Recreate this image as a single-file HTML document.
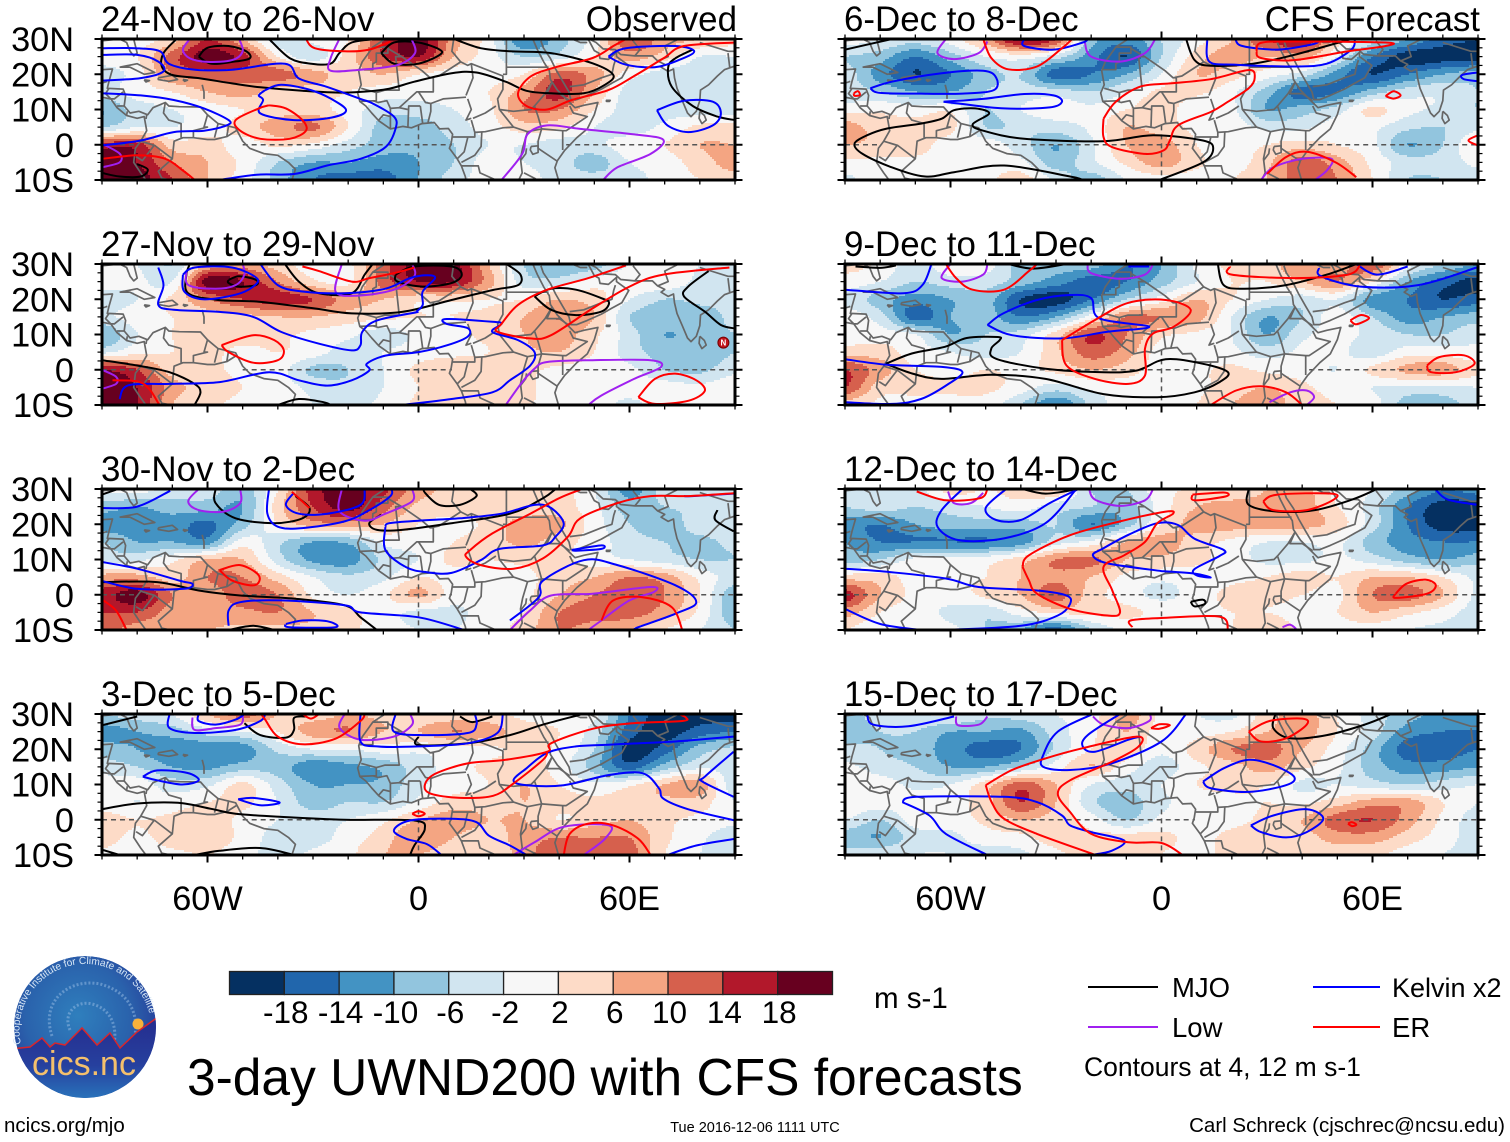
<!DOCTYPE html>
<html lang="en">
<head>
<meta charset="utf-8">
<title>3-day UWND200 with CFS forecasts</title>
<style>
html,body{margin:0;padding:0;background:#fff;}
svg{display:block;font-family:"Liberation Sans",Arial,sans-serif;}
</style>
</head>
<body>
<svg id="chart" xmlns="http://www.w3.org/2000/svg" width="1510" height="1142" viewBox="0 0 1510 1142">
<rect width="1510" height="1142" fill="#fff"/>
<defs>
<clipPath id="logo-clip"><circle cx="85" cy="1027" r="71"/></clipPath>
<radialGradient id="logo-sky" cx="0.45" cy="0.42" r="0.62"><stop offset="0" stop-color="#2f7fbd"/><stop offset="0.6" stop-color="#2a62ac"/><stop offset="1" stop-color="#273a98"/></radialGradient>
<linearGradient id="logo-ground" x1="0" y1="0" x2="0" y2="1"><stop offset="0" stop-color="#252c8e"/><stop offset="0.55" stop-color="#26409e"/><stop offset="1" stop-color="#2a7cc0"/></linearGradient>
<path id="logo-arc" d="M21 1044 A65 65 0 1 1 150 1016"/>
</defs>
<g id="panels"></g>
<g id="colorbar"></g>
<text x="874" y="1008" font-size="29.5">m s-1</text>
<text x="187" y="1095" font-size="51.5">3-day UWND200 with CFS forecasts</text>
<g>
<line x1="1088" y1="987" x2="1158" y2="987" stroke="#000" stroke-width="2"/>
<text x="1172" y="997" font-size="27.5">MJO</text>
<line x1="1088" y1="1027" x2="1158" y2="1027" stroke="#a020f0" stroke-width="2"/>
<text x="1172" y="1037" font-size="27.5">Low</text>
<line x1="1313" y1="987" x2="1380" y2="987" stroke="#0000ff" stroke-width="2"/>
<text x="1392" y="997" font-size="27">Kelvin x2</text>
<line x1="1313" y1="1027" x2="1380" y2="1027" stroke="#ff0000" stroke-width="2"/>
<text x="1392" y="1037" font-size="27.5">ER</text>
<text x="1084" y="1076" font-size="26.5">Contours at 4, 12 m s-1</text>
</g>
<text x="4" y="1132" font-size="20.5">ncics.org/mjo</text>
<text x="755" y="1132" font-size="14.5" text-anchor="middle">Tue 2016-12-06 1111 UTC</text>
<text x="1505" y="1132" font-size="20.5" text-anchor="end">Carl Schreck (cjschrec@ncsu.edu)</text>
<g clip-path="url(#logo-clip)">
<circle cx="85" cy="1027" r="71" fill="url(#logo-sky)"/>
<path d="M70 1030 C62 1012 78 1000 92 1004 C116 1010 118 1036 112 1050 M52 1036 C40 1000 70 978 100 984 C130 992 140 1015 134 1040" fill="none" stroke="#8fb6e0" stroke-width="3" stroke-dasharray="2 2" opacity="0.55"/>
<circle cx="138" cy="1024" r="5.5" fill="#f7b23b"/>
<path d="M10 1049 L30 1047 L42 1038 L50 1047 L55 1043 L65 1045 L82 1028 L97 1045 L110 1033 L120 1048 L137 1032 L158 1017 L160 1105 L10 1105 Z" fill="url(#logo-ground)" stroke="#d8262c" stroke-width="1.5"/>
<text x="84" y="1075" font-size="34" text-anchor="middle" fill="#f4c06c">cics.nc</text>
</g>
<text font-size="10.2" fill="#d6e6f5"><textPath href="#logo-arc">Cooperative Institute for Climate and Satellites</textPath></text>
</svg>
<script>
const latRows=[30,25,20,15,10,5,0,-5,-10];
const lonCols=[-90,-80,-70,-60,-50,-40,-30,-20,-10,0,10,20,30,40,50,60,70,80,90];
const bandBreaks=[-18,-14,-10,-6,-2,2,6,10,14,18];
const bandColors=["#053061","#2166ac","#4393c3","#92c5de","#d1e5f0","#f7f7f7","#fddbc7","#f4a582","#d6604d","#b2182b","#67001f"];
const panelTitles=["24-Nov to 26-Nov","27-Nov to 29-Nov","30-Nov to 2-Dec","3-Dec to 5-Dec","6-Dec to 8-Dec","9-Dec to 11-Dec","12-Dec to 14-Dec","15-Dec to 17-Dec"];
const latTickLabels=["30N","20N","10N","0","10S"];
const latTickValues=[30,20,10,0,-10];
const lonTickLabels=["60W","0","60E"];
const lonTickValues=[-60,0,60];

const fieldGrids=[
[[0,0,4,14,6,-4,-1,2,14,20,8,0,-14,-8,0,14,8,6,4],
[0,2,12,20,16,2,-4,4,14,18,6,0,-6,-4,2,8,4,-2,-2],
[-4,0,10,12,12,12,8,4,6,2,0,0,2,12,8,0,-4,-4,-4],
[-4,0,2,6,8,4,4,2,0,0,0,2,8,16,6,-4,-6,-4,-4],
[-10,-4,-2,0,2,4,4,0,-4,-4,-2,1,10,10,2,-4,-4,-4,-4],
[-6,-2,-2,0,4,8,11,2,-8,-8,-4,0,4,3,-2,-4,-1,3,4],
[16,16,4,4,0,3,1,-4,-8,-9,-6,-2,-2,-4,-3,0,2,6,6],
[20,18,10,6,1,-6,-10,-10,-12,-10,-6,0,-2,-4,-8,-2,0,4,8],
[20,20,14,6,0,-8,-14,-16,-16,-10,-4,0,0,-4,-4,-4,0,2,4]],
[[0,-2,-6,6,8,4,0,1,12,20,20,6,-6,-10,-8,-2,0,-2,-2],
[0,-1,-2,20,18,10,3,1,12,18,18,8,-4,-4,0,1,1,-3,-4],
[-4,-2,3,10,14,16,14,8,6,3,3,2,2,6,4,-2,-6,-5,-5],
[-3,0,2,4,5,6,6,4,3,2,2,3,6,10,6,-6,-8,-8,-5],
[-10,-2,2,4,4,3,1,-1,-4,-1,1,3,6,8,3,-4,-10,-8,-6],
[-3,1,2,3,1,2,0,-4,-2,0,1,2,5,6,2,-4,-8,-9,-6],
[18,14,4,3,1,0,-7,-6,-2,3,5,4,3,1,0,-1,-6,-7,-3],
[20,18,8,4,2,0,-3,-5,-2,2,4,4,3,0,-1,0,0,-1,1],
[20,18,6,3,1,0,-2,-3,-1,3,5,6,3,0,0,-3,0,0,0]],
[[-1,0,-4,-4,-8,2,16,20,15,8,5,4,4,4,-2,-12,-4,-4,-2],
[-8,-10,-8,-8,-10,4,14,20,12,5,4,4,3,4,-1,-8,-6,-5,-2],
[-12,-12,-12,-15,-8,2,8,8,6,2,1,3,8,7,0,-6,-8,-4,-3],
[-6,-10,-10,-12,0,-5,-10,-9,-1,0,2,4,7,4,0,-4,-6,-7,-5],
[-4,-3,1,6,6,-4,-11,-12,-5,-2,3,2,3,3,0,-2,-4,-6,-6],
[8,8,4,10,10,4,-2,-5,-3,2,0,0,1,4,6,10,8,1,-4],
[16,20,10,8,12,10,1,-2,1,7,0,0,1,6,10,12,10,2,-9],
[14,14,8,8,9,10,6,3,0,-3,-3,0,2,10,12,12,8,1,-9],
[12,8,6,6,5,5,5,3,0,-2,-2,0,4,10,8,6,2,-2,-6]],
[[-6,-4,-2,6,12,6,4,6,5,3,3,3,1,0,-1,-14,-20,-20,-20],
[-12,-10,-8,-4,-2,2,8,10,6,6,10,8,4,2,-4,-16,-20,-16,-14],
[-8,-10,-13,-13,-12,-5,-2,-2,0,-1,0,1,3,1,-6,-20,-16,-8,-5],
[-4,-6,-10,-11,-8,-8,-13,-11,-9,-4,0,3,4,0,-8,-16,-8,-3,-4],
[0,0,-4,-3,3,-4,-10,-10,-9,-3,0,2,6,2,-1,1,6,8,-5],
[0,-2,0,2,3,-2,-8,-6,-6,-1,4,4,6,4,3,4,5,4,-2],
[4,2,3,4,1,-2,-4,-2,1,6,8,6,6,2,4,6,3,1,-1],
[4,1,4,4,1,-4,-4,0,4,10,6,4,8,10,10,10,3,-1,-5],
[1,-1,1,2,0,-4,-1,1,6,6,3,3,8,14,12,12,2,-2,-6]],
[[0,-2,-4,0,8,20,14,-8,-12,-6,0,6,14,18,4,-4,-10,-16,-18],
[-6,-8,-14,-8,-2,0,-4,-12,-18,-6,4,8,6,8,-2,-14,-20,-20,-20],
[-4,-12,-18,-14,-8,-6,-16,-14,-10,-2,6,4,0,-4,-12,-18,-14,-10,-8],
[-4,-6,-10,-10,-6,-4,-4,-6,-2,3,3,-1,-8,-16,-14,-8,-4,-3,-6],
[0,1,0,1,-6,-2,0,-1,2,4,-1,-1,-10,-8,-4,3,-1,-3,-6],
[8,4,3,3,-6,-5,-4,-1,6,4,1,0,-3,-3,0,-1,-5,-6,-3],
[6,5,4,0,0,-4,-10,-3,6,8,2,0,2,4,2,-1,-10,-6,2],
[1,1,1,0,0,-1,-8,-3,3,8,3,0,5,12,8,1,-4,-4,-1],
[-3,0,0,0,1,4,-3,-8,-2,0,0,2,6,12,10,2,-6,-6,-4]],
[[4,1,-4,1,0,-8,-8,-8,-14,-10,-1,3,4,10,8,14,0,-6,-10],
[0,-2,-6,-4,-4,-8,-12,-16,-14,-8,-2,2,2,6,10,2,-10,-16,-20],
[-3,-8,-12,-10,-8,-18,-20,-14,-6,0,6,2,-2,-4,-2,-12,-14,-18,-16],
[0,-4,-16,-10,-8,-14,-10,0,10,10,8,-2,-10,-6,0,-6,-12,-10,-8],
[0,0,-2,-10,-6,-4,4,14,10,3,1,-2,-10,-3,-1,-3,-6,-6,-3],
[4,4,0,-2,-4,-2,5,12,8,0,0,-1,-4,-1,-1,-4,0,0,-1],
[14,8,2,0,2,1,3,6,4,0,1,3,1,0,-2,3,7,8,3],
[14,4,4,3,3,0,-4,-1,0,0,1,4,6,3,0,-2,-3,-3,-2],
[4,1,-1,0,0,-6,-14,-5,0,0,2,6,8,4,2,0,-8,-8,-4]],
[[-6,-4,-4,4,2,4,6,-6,-6,1,2,2,6,8,0,-2,-8,-14,-12],
[-6,-4,-6,-4,-2,0,-4,-6,-8,0,6,8,8,8,2,-4,-14,-20,-20],
[-12,-14,-10,-8,-8,-8,-6,-14,-8,2,8,8,8,8,4,-4,-14,-20,-20],
[-10,-14,-14,-14,-14,-12,-4,-1,6,8,4,1,-2,-2,-1,-8,-12,-14,-14],
[-8,-6,-1,-1,0,4,10,11,6,5,3,0,-3,-3,-1,-4,-8,-10,-8],
[4,4,0,0,2,6,9,6,1,-1,0,1,2,4,2,6,6,2,-3],
[16,6,1,0,3,6,12,4,0,-3,0,3,3,2,1,10,12,6,-3],
[8,2,0,-3,-5,0,3,3,3,1,1,2,2,1,2,6,3,0,-4],
[2,-1,0,-1,-6,-10,-16,-6,-1,-1,1,2,5,1,0,0,-2,-3,-4]],
[[-8,-4,-3,-1,-5,-4,-2,0,8,1,-2,-3,4,8,2,-4,-8,-12,-14],
[-8,-6,-6,-10,-10,-11,-4,1,6,0,0,2,6,8,2,-4,-12,-14,-14],
[-5,-6,-8,-12,-16,-14,-5,2,5,-1,4,10,12,6,0,-8,-16,-16,-14],
[-1,-4,-6,-10,-10,-6,0,6,0,-4,1,4,8,3,-1,-8,-12,-12,-10],
[0,0,-3,-2,4,12,6,-2,-4,-2,2,3,2,-3,-2,-4,-6,-4,-2],
[1,0,0,1,4,14,6,-5,-8,-3,0,1,2,1,4,8,8,2,-2],
[-2,-6,0,0,3,6,4,0,-6,-1,0,1,3,6,12,14,8,1,-4],
[-8,-10,-4,-3,0,1,4,3,4,3,1,3,4,4,8,8,4,0,-4],
[-4,-3,-2,-2,-4,-3,1,4,6,2,1,3,4,3,3,3,0,-2,-4]]
];

/* Each contour: [longitudes, latitudes] */
const mjoContours=[
[[[-69,-72.5,-73,-70,-62.5,-53,-45,-33,-21,-9.4,-1.2,9.4,16.5,24.8,30.7,37.7,47,53,55.4,49.5,37.7,26,17.7,10.6],[29.8,26,22.2,19.8,18.9,17.4,16.3,15.3,14.8,15.7,17.9,20.3,20.5,17.9,15.3,14.6,14.6,17,19.8,23.1,26,26.5,27.4,29.8]],
[[-62.5,-60,-54,-49,-48,-53,-59,-62.5],[25,27.5,28,26.5,24.5,23.5,23,25]],
[[-10.6,-7,0,6,6,0,-7,-10.6],[26,29,29,27,25.5,23,23,26]],
[[-42.5,-36.5,-30.5,-25,-22.5,-19,-12],[30,24.5,23,23,26,29,30]],
[[78,73,71,72,78,85,90],[27,24.5,22,16.5,11,8,7]],
[[-90,-85,-79,-77,-80],[-8,-9,-9,-7,-5.5]]],
[[[-65,-66,-65.5,-57,-45.4,-29.7,-19,-4.7,9.4,21,28.3,29,25],[30,27,21.7,19.8,19.3,17.4,16,16.4,19.8,22.6,24,27,30]],
[[-38,-34,-28.3,-19,-15.3,-13],[30,25,21.7,21.7,27,30]],
[[-54,-51,-46.2,-46.2,-51,-54,-54],[25.5,26.5,25.5,24,23.6,24.6,25.5]],
[[-6.5,-1.2,9.4,12.3,9.4,1.2,-6,-6.5],[27,29.3,29.3,27,24.6,23.6,25,27]],
[[33,37.7,44.8,52,54.2,52,44.8,37.7,33],[20.8,23,22.7,20.3,19,16.5,15.5,17,20.8]],
[[82.5,76.7,75.5,81.4,86,90],[28,23.6,20.8,16.5,12.7,11.7]],
[[-90,-80,-70.8,-63.7,-62,-63.7],[2.7,1.2,-0.7,-4,-6.4,-10]],
[[-40,-34,-27,-25],[-10,-8.3,-9.2,-10]]],
[[[-57.7,-57.7,-52,-41,-33,-31,-35],[30,26,21.7,20.3,21.7,24.6,28]],
[[1.8,1.8,5.9,11.8,16.5,14.7],[30,29,25.5,25.5,28,30]],
[[-10.6,-14,-11.8,-4.7,9.4,26,35.4,39],[22.7,20.3,18.4,18.4,20.3,23,27.4,30]],
[[-90,-74.3,-62.5,-50.7,-35.4,-21,-16.5,-11.8],[3.6,3.6,1.2,-0.2,-1.1,-3,-6.4,-10]],
[[85,84.4,89.6],[24,21.2,18]],
[[-54,-47,-41],[-10,-8.8,-10]],
[[-90,-85.5],[28.4,30]]],
[[[-90,-80],[26.8,29.3]],
[[-49.5,-45,-37.7,-35.4,-35.4,-32],[27.4,24,23.3,25.5,28.9,29.3]],
[[11.8,15.3,21],[29.3,27.7,29.3]],
[[0,0,14,26,35.4,46],[23.6,21.2,21.7,24,27,29.8]],
[[-90,-80,-68.4,-59,-52,-39,-21,-1.2,1.8,-1.2,-2.4],[3,4.6,4.8,3.1,1.7,0.8,0,-0.2,-2.6,-7.3,-10]],
[[-90,-85],[-8.5,-10]],
[[-63.6,-56.6,-45,-35.4],[-10,-8.8,-8,-10]]],
[[[-90,-76.6],[27,30]],
[[7,9.4,14,26,37.7,54],[30,24,22.4,23,25.5,30]],
[[-0.6,11.8,14.7,11.8,-2.4,-16.5,-39,-50.7,-53.7,-49,-53,-59,-62.5,-68.4,-78,-83.7,-87.3,-85,-76.7,-67.2,-59,-44.8,-26,-22.4],[-10,-5,-1.1,1.2,2.7,1,1.7,4,5.8,8.9,10.3,9.8,7.4,6,4.6,2.7,0.3,-2.6,-6.4,-9,-7.8,-5.9,-9,-10]]],
[[[-87,-80,-75.5],[29.3,28.9,29.6]],
[[-43.6,-36.5,-27],[30,28.7,30]],
[[16,17.7,23.6,35.4,47,55.4],[30,24,23,24,27,30]],
[[-78.4,-71,-61.6,-55.4,-46.6,-46,-48.4,-47,-33,-16.5,-7,1.2,11.8,18.9,16.5,9.4,-1.2,-16.5,-33,-48.4,-62.5,-70.8,-78.4],[1.7,4.6,6.5,9,9.3,8.4,6,3.1,0.3,-0.7,-0.2,3,1.7,-0.7,-3.5,-6.4,-7.8,-6.9,-2.6,-1.4,-2.6,-1.1,1.7]]],
[[[-39.5,-33,-24.7],[30,28.7,29.8]],
[[24.8,24.8,33,43.6,54.2,61.3],[30,25.5,23.6,24,27,30]],
[[8.3,11.8,12.3,9.4,8.3],[-2,-1.4,-2.6,-3.3,-2]]],
[[[32.4,31.8,36.6,47,57.8,65.4],[30,26,23.1,24,27,30]]]
];

const lowContours=[
[[[-65,-67,-65,-60,-53,-50,-51],[30,27,24.5,23.5,24,26.5,30]],
[[-22.5,-25,-25,-16.5,-6,-1,-2],[30,24.5,21,21.3,22.6,26,30]],
[[23.6,29.5,31,36.6,46,61,69.6,66,56.6,52.5],[-10,-2.6,3,5.5,4.5,3,1.4,-2.6,-6.4,-10]],
[[-90,-85,-85,-90],[0.3,-2.5,-5,-6.4]]],
[[[-66,-65.4,-57.7,-52,-49.5,-50],[28,24,23,24,27,30]],
[[-21.8,-23.6,-17.7,-7,-1.2,-1.8],[30,22.2,21,22.7,26.5,30]],
[[24.8,29.5,33,36.6,49.5,66,69,61.3,52,48.3],[-10,-3.5,0.3,2.2,2.7,2.7,0.8,-2.6,-7.3,-10]],
[[-90,-86,-86,-90],[0,-2,-4,-5.4]]],
[[[-62.5,-65.5,-62.5,-55.4,-50.7,-50.7],[30,26.5,24,23.6,26,30]],
[[-21.8,-22.4,-15.3,-9.4,-1.8,-1.8],[30,23.6,21,23,26.5,30]],
[[26,31.8,37.7,49.5,66,67,60,52,48.3],[-10,-4.4,-0.2,0.3,2.2,0.8,-1.6,-7.3,-10]]],
[[[-64.3,-63.7,-57.7,-50.7,-50],[29,25.5,26,27,30]],
[[-21,-22.4,-16.5,-7,-1.8,-2.4],[30,26,22.7,23.6,27,30]],
[[27,33,41.3,54.2,53,47],[-10,-6.4,-2,-1.6,-5.4,-10]]],
[[[-61.3,-63.7,-59,-52,-49.5],[30,26,24.3,26,29.3]],
[[-21.8,-20,-11.8,-4.7,-1.8],[29,25,23.6,26,30]],
[[28.3,31.8,40,48.3,47,43.6],[-10,-6.4,-4,-4,-7.3,-10]]],
[[[-60,-62.5,-56.6,-50.7,-49.5],[30,26,25,27,30]],
[[-21,-20,-11.8,-4.7,-2.4],[30,27.4,25.8,27,30]],
[[30.7,36.6,41.3,43.4,41.3],[-9.2,-6.4,-5.9,-7.8,-10]]],
[[[-60.7,-59,-54.2,-50.7],[29.3,26,26,28.9]],
[[-20.6,-18.9,-11.8,-4.7,-2.4],[30,27,25.2,26.8,30]],
[[34.4,36.6,38.3],[-9.2,-8.5,-9.7]]],
[[[-58.4,-57.8,-51.9,-49.5],[29.3,26.8,27,29.3]],
[[-19.5,-16.5,-9.4,-3.5,-3.3],[29.3,27,26,28,30]]]
];

const kelvinContours=[
[[[-90,-80.5,-73.5,-71,-63.5,-53,-38,-34,-26,-16.5,-13,-7,-6.5,-9.4,-16.5,-26,-35.4,-46,-56.6],[27.4,27.4,26.5,23,21.3,21.3,23,18.8,16.4,13,11.7,8,4.6,-0.7,-4,-5.9,-8.3,-8.5,-10]],
[[-90,-80,-74,-72.5,-79,-90],[25.5,25.5,23.6,20.8,18.9,18.2]],
[[-90,-79,-69.6,-61,-54,-54.6,-61,-69.6,-79,-90],[14.6,14,12.7,10.3,7,5.5,4,3.6,1.2,-0.2]],
[[-43.6,-39,-30.6,-24.8,-20.6,-24.8,-35.4,-45,-44.2,-45.4,-43.6],[15.5,17,15.5,13,9.8,7.7,7,8.9,12.7,14,15.5]],
[[54,59,73,78.4,74,67.2,59,54],[25,27.4,28,26.5,24,22,22.7,25]],
[[67.8,75.5,83.7,86,83.7,76.7,70.8,67.8],[9.8,12.5,12.2,8.9,5.5,3.6,5.5,9.8]]],
[[[-74,-72.5,-74,-69.6,-56.6,-47,-39,-28.3,-19,-16.5,-16,-11.8,0],[29,24,18.4,17,16.4,15,10.7,7.4,5.5,7,10.7,14,16.4]],
[[-67,-63.6,-53,-46,-47,-52,-61.3,-66.6,-67],[27,29,29,26,23.6,21.3,20,22.2,27]],
[[-45,-40,-33,-21,-9.4,-2.4,2.4,4.7,1.2,1.2,-0.6],[30,24,22.2,21.7,23,26,26.8,26,22.2,18.4,16.5]],
[[-85,-82.5,-70.8,-56.6,-42.5,-34,-26,-19,-14,-14.7,-9.4,0,8.3,14,14,8,8,21,23.6,21,28.3,33,31.8,26,21,9.4,-4.7],[-8.3,-4.4,-4,-3.5,-0.7,-3,-4.5,-3,-0.2,1.7,4,5,7,9.4,11.8,13,14.4,13.6,13,10.7,8.4,5,1.2,-3,-6.4,-8.3,-10]]],
[[[-90,-80,-70.6],[24.6,25,29.5]],
[[-42.5,-43,-40,-33,-21,-14,-8,-7.7],[30,23.1,19.3,18.9,20.8,24,28,30]],
[[-35.4,-37.7,-34,-26,-16.5,-15.3],[29,25.5,23,23,25.5,30]],
[[75.5,77.8,89.6],[28,28,28.7]],
[[-9.4,-9.4,-3.5,2.4,9.4,17.7,23,35.4,39,41.3,37.7,33,23.6,11.8,0,-8.3,-9.4],[19.3,12.7,7.8,6.4,6.2,9.8,13,14,16.5,20.3,24.6,25.5,23,21.7,21,20.3,19.3]],
[[-90,-80,-68,-64.3,-66.6,-80,-90],[9.3,7.4,4,3.1,1.7,1.7,3.9]],
[[-54,-54,-50.7,-39,-21,-16.5,0,13],[-8.8,-4.5,-2.1,-1.6,-3,-5,-6.4,-10]],
[[-37.7,-33,-26,-23.6,-36.6,-37.7],[-8.3,-7.3,-7.5,-9.2,-9.2,-8.3]],
[[43.6,52,52,44.8,43.6],[12.7,14,13,12.5,12.7]],
[[26,34.2,35.4,47,56.6,73,79,73,62.5,61.3],[-7.3,-0.7,4,9.8,8.4,2.7,-2.1,-5.4,-9.2,-10]]],
[[[-70.8,-70.8,-63.6,-52,-45,-43.6],[30,26,24.6,25.5,28,30]],
[[-62.5,-62.5,-57.7,-52,-49.5],[30,28,27,28.4,30]],
[[-16.5,-16.5,-11.8,0,14,22.4,24],[30,22.2,20.8,20.8,21.7,24.6,30]],
[[-6.5,-7,1.2,14,16.5,16],[30,25,24,24.6,27,30]],
[[89.6,73,54,44.8,36.6,30.7,27,30.7,41.3,54.2,63.7,68.4,69.6,76.6,90],[23.6,22.2,21.3,20.8,19,14.6,11.2,9.8,9.8,12.7,13.2,8.9,6,3,-0.2]],
[[89.6,81.4,80.8,89.6],[19.3,12.2,10.8,6.5]],
[[-78.4,-74.3,-65.8,-62.5,-67.2,-74.3,-78.4],[12.2,14,13.3,11.2,10,11.2,12.2]],
[[-51.3,-47,-39.5,-45,-51.3],[5.8,6.2,4.9,4.1,5.8]],
[[6.5,2.4,-3.5,-7,-2.4,9.4,16.5,20,26,30.7],[-10,-6.9,-5.4,-3,-0.2,0.3,-0.7,-4.5,-7.3,-10]],
[[70.8,79,90],[-10,-7.3,-5.4]]],
[[[-82.8,-76.7,-62.5,-50.7,-47,-47.7,-56.6,-68.4,-80,-82.8],[16,17.9,20.3,21,19,15.5,14.5,14.5,14.7,16]],
[[-62,-50.7,-39,-30.7,-28.3,-31.8,-44.8,-57.7,-62],[12.2,13,14.4,14,12.2,10.6,10.3,11.7,12.2]],
[[-39,-39,-30.7,-22.4,-21],[30,28,27,29,30]],
[[13,13.6,21.2,37.7,47,54,55],[30,23.6,22.7,22.2,23,27,30]],
[[21,23,33,42.5,44.8],[30,28,27,28.4,29.3]],
[[90,85.5,86,90],[20.5,19.8,18.6,18]]],
[[[-65.4,-68,-73.4,-90],[30,24,21.7,22.7]],
[[-49.5,-45,-35.4,-26,-20,-17.7,-3.5,-15.3,-28.3,-42.5,-49.5],[12.7,16,19.8,21.2,20.3,14.6,12.2,10.8,8.9,9.8,12.7]],
[[-9.4,-3.5],[29.3,29.3]],
[[44.8,45.4,56.6,73,89.6],[28.9,26.5,23.6,24,29]],
[[55.4,61.3,70],[30,27,29.3]],
[[-90,-78,-62.5,-56.6,-61.3,-68.4,-76.6,-90],[3,1.4,0.8,-0.7,-4.5,-8.3,-9.7,-9.2]]],
[[[-44.2,-50,-47,-40,-31.8,-23.6],[30,24.6,21.2,21.2,26,30]],
[[-56.6,-62.5,-63.7,-57.7,-44.8,-33,-24.2],[30,24,19.3,15.5,16,20.3,30]],
[[77.8,81.4,90],[30,27,25.5]],
[[0,-15.3,-19.5,-16.5,-9.4,-1.2,4.7,9.4,17.7,16.5,9.4,10,14,9.4,0],[6.7,8.9,11.2,13.2,17,20.3,19.8,15.9,12.7,11,7.3,5.5,4.9,6,6.7]],
[[-90,-78,-61.3,-52,-35.4,-27,-26,-29.5,-40,-62.5],[7.4,6.5,4.6,2.2,1.2,-0.2,-2.6,-5.9,-8.8,-10]],
[[-90,-80,-68.4],[-4,-8.3,-10]]],
[[[-83.7,-82,-72,-59],[30,27,26.5,29.3]],
[[-19.5,-29.5,-33.6,-33.6,-26,-14.2,0,7],[30,25,18.4,15,14.1,16,22.2,30]],
[[-11.8,-21,-22.4,-18.9,-9.4,-5.9],[30,24,20.8,19.3,22.7,23.6]],
[[11.8,17.7,24.8,31.8,37.7,35.4,24.8,14.2,11.8],[10.8,14.6,17,15.5,12.2,9.8,7.9,8.9,10.8]],
[[25.4,31.8,41.3,46,41.3,35.4,28.3,25.4],[-1.6,1.2,3,0.3,-3.5,-5,-3.5,-1.6]],
[[-73.7,-69.6,-44.8,-35.4,-28.3,-26,-20,-10.6,-14.2,-20],[5,6.5,6.5,5,1.2,-1.6,-3.5,-5.9,-8.8,-10]],
[[-73.7,-66,-61.3,-49.5],[5,1.2,-4,-10]]]
];

const erContours=[
[[[-32,-29.5,-21,-14,-8],[30,27.4,26.5,27,29.3]],
[[-42.5,-45.4,-52,-50.7,-45,-36.6,-32,-33,-37.7,-42.5],[11.2,10.3,7,4,1.7,1.7,4,7,10.3,11.2]],
[[59,55.4,49.5,39,31.8,28.3,30.7,36.6,43.6,54,61,69.6,75.5,90],[30,28,24.6,22,19.3,14.6,11,10,12.7,15.5,19.3,24.5,28,29]],
[[-90,-80,-72,-67,-63.6],[-4,-3,-4,-7.3,-10]]],
[[[-33,-28.3,-19,-14,-7,-1.2],[29.3,28,25,26,27.4,29]],
[[-56,-47,-41,-38.3,-40,-47,-54,-56],[7,9.8,8.4,5.5,2.7,2,5,7]],
[[59,48.3,36.6,28.3,23.6,22.4,31.8,37.7,49.5,60,69.6,88.4],[29.6,26,22.7,18.4,13,10.8,8.9,9.8,17.4,23.6,27,29]],
[[62.5,67.2,73,79,81.4,76.7,67.2,62.5],[-7.8,-2.6,-1.1,-3,-6,-8.8,-9.7,-7.8]],
[[-87,-80,-76.6,-73.7],[-3,-3.3,-5.4,-10]]],
[[[-36,-31],[29.2,24.6]],
[[-56.6,-50.7,-45.4,-46.6,-53,-56.6],[7,8.4,5.5,2.7,4,7]],
[[-89.6,-86,-83],[-1.6,-4.5,-10]],
[[89.6,76.6,66,56.6,46,42.5,35.4,27,17.7,13.5,14.7,21,31.8,40,46],[28.8,28,28,26,21.7,16.5,10.3,7.4,8.4,10.8,12.7,17.4,23,27.4,29.8]],
[[52,55.4,63.7,72,75],[-7.3,-1.6,-0.7,-3.5,-10]]],
[[[-44.8,-43.6,-40,-33,-23.6,-16.5,-15.3],[30,28.4,23.6,21.4,23,28,30]],
[[-33,-30.6,-28.3],[30,28.7,30]],
[[74,76,75,61,49.5,37.7,36.6,24.8,14,4.7,1.8,3.5,11.8,21.2,27,35.4,36.6],[30,29,28,27.4,25.8,21.7,19.3,17,16,13,9.8,7.4,6.2,6.8,10.3,17,19.3]],
[[41.3,43,48.3,55.4,62.5,66],[-10,-4,-1.1,-1.6,-5.4,-10]],
[[-1.8,0,1.8,0,-1.8],[1.7,2.4,1.7,1,1.7]]],
[[[-50.7,-48.4,-43.6,-35.4,-28.3,-25.4],[30,24.6,21.4,22.2,27.4,30]],
[[27,28.3,37.7,53,63.7,63.7,37.7,28.3,27],[26.5,24.6,24,26.5,28,29,29.3,28.9,26.5]],
[[-16.5,-13,-6,2.4,14,24.8,26.5,24.8,18.9,14,4.7,2.4,0.6,-4.7,-14,-16.5,-16.5],[7.4,12.2,16.5,17.4,18.6,21.2,19,16,12.2,9.3,5.5,1.2,-1.6,-2.6,-0.7,2.2,7.4]],
[[30,35.4,41.3,49.5,55.4],[-8.3,-3.5,-2,-5,-9.2]],
[[63.7,66,68,66,63.7],[13.8,15.2,14,13.1,13.8]],
[[-87.5,-86.3,-85.8,-87.3,-87.5],[14.6,15.2,14.1,13.9,14.6]],
[[90,87.3,90],[2.7,1.2,-0.2]]],
[[[-61.3,-58.4,-53.7,-44.8,-37.7,-35.4],[30,26,22.7,22.7,28,30]],
[[19.5,20,37.7,53,56.6],[29.3,27,26,27,30]],
[[-28.3,-18.9,-9.4,1.2,8.3,3.5,-2.4,-4.7,-4.7,-9.4,-18.9,-27,-28.3],[8.4,14.1,19,19.8,17,12.2,10.3,6,-1.6,-4,-2.6,1.2,8.4]],
[[53.7,56.6,59,55.4,53.7],[14,15.5,14.6,12.9,14]],
[[75.5,79,86,89,83.7,76.7,75.5],[1.2,3.6,4.1,1.7,-0.7,-0.7,1.2]],
[[14,21.2,28.3,35.4,40],[-10,-5.9,-4.7,-6.4,-10]]],
[[[-69.6,-61.3,-51.6,-49.5],[29.3,26.8,27.4,30]],
[[8.8,17.7,18.3,9.4,8.8],[28.4,29,27.9,26.8,28.4]],
[[28.9,33,48.3,49,41.3,31.8,28.9],[26.5,28.4,28.7,27,24,24,26.5]],
[[-39.5,-37.7,-26,-11.8,1.2,3.3,-1.2,-4.7,-10.6,-16.5,-14,-11.8,-15.3,-26,-35.4,-37.7,-39.5],[7.9,11.2,16.9,20.8,23.6,23,20.3,15,11.2,7.9,1.2,-5,-5.9,-4,0.3,4.1,7.9]],
[[66.6,69.6,75,78,75.5,66.6,66.6],[0.3,3.1,4.3,2.7,0.3,-0.9,0.3]],
[[-8.3,-8.8,0,16.5,18.9],[-9.2,-7.3,-6.6,-6.2,-10]]],
[[[-50,-42.5,-33,-22.4,-7,-6.5,-14,-26,-29.5,-26,-20,-9.4,0,6],[9.8,14.1,17.4,20.3,23.6,20.8,16.5,11.2,7.4,2.2,-4,-6.4,-6.6,-10]],
[[-50,-48.3,-44.8,-35.4,-21,-18.9],[9.8,5,0.3,-4,-9.2,-10]],
[[24.8,30.7,40,41.3,35.4,28.3,24.8],[25,28,28.7,27,23.1,22.2,25]],
[[-3,-0.6,2.4,-0.6,-3],[26,27.1,26.8,25.8,26]],
[[53,54.2,55.4,54.2,53],[-1.1,-0.7,-1.4,-1.8,-1.1]]]
];

const coastlines=[
[[-90,29.5],[-85,30],[-83,29],[-82,26.5],[-81,25.2],[-80,26],[-81,30]],
[[-90,21.3],[-87,21.5],[-88,18],[-88.5,16],[-84,15.8],[-83.3,14],[-83.7,11],[-82,9],[-79.5,9.5],[-77,8.5],[-75.5,10.5],[-72,12],[-71,11],[-68,10.8],[-62,10.7],[-60,8.5],[-57,6],[-52,4.8],[-50,1],[-48,-1],[-44,-2.5],[-40,-3],[-37,-5],[-35,-7],[-36,-10]],
[[-90,13.5],[-87.5,13],[-85.7,10.5],[-83,8.3],[-80,7.5],[-78,8],[-77.3,4],[-79,1],[-80.5,-1],[-81,-5],[-79,-8],[-77.5,-10]],
[[-85,22],[-80,23],[-75,20.5],[-78,20],[-82,22],[-85,22]],
[[-74,19],[-70,19.7],[-68.5,18.5],[-71,18],[-74,18.5],[-74,19]],
[[-78,18.4],[-76.5,18.2],[-77.5,17.8],[-78,18.4]],
[[-67,18.5],[-65.7,18.3],[-66.5,18],[-67,18.5]],
[[-61.5,17],[-61,15],[-61,13]],
[[-9.5,30],[-13,27.7],[-16,23.5],[-17,21],[-16.3,17],[-17.3,14.7],[-16.7,12.3],[-15,11],[-13.3,9],[-11.3,6.8],[-8,4.5],[-4.5,5.2],[-2,4.8],[1,6],[4.5,6.3],[6,4.5],[8.5,4.6],[9.7,3],[9.3,0.5],[8.8,-1],[11,-4],[12.2,-6],[13.3,-9],[13.5,-10]],
[[32.5,30],[33.8,27],[35.6,23.5],[37.2,21],[37.5,18.5],[39.5,15.5],[43,12],[44.5,10.5],[47,11.2],[51,12],[50,8.5],[48,4.5],[45,2],[41.5,-1.7],[39.5,-4.5],[38.8,-6.5],[39.8,-10]],
[[34.8,29.5],[35.5,27.5],[37.5,24.5],[39,21.5],[41,18],[42.8,15],[43.3,12.8],[45,12.8],[48,14],[52,15.8],[55,17.5],[57.8,19],[59.8,22.5],[58,23.8],[56.3,25],[56.3,26.2],[54,24.2],[51.6,24.5],[51.3,26],[50,26.7],[48.5,29.5],[48,30]],
[[48.5,30],[50.5,29],[52.5,27.2],[56,27],[57.5,25.6],[61.5,25.2],[66.5,25.2],[68,23.8],[70,22.8],[69,22],[71,20.8],[72.5,21.5],[72.8,19],[73.5,16],[75,12.5],[76.5,9],[77.5,8],[79,9.5],[80,12.5],[80.2,15.5],[82.5,17],[85,19.5],[87,21.3],[89,22],[90,22.3]],
[[80,9.5],[81.3,8.3],[81.8,7],[80.6,6],[79.8,7.5],[80,9.5]],
[[53.3,12.6],[54.5,12.6],[54.3,12.3],[53.5,12.3],[53.3,12.6]],
[[32,-0.5],[34,-0.3],[34,-2.2],[32.5,-2.7],[31.8,-1.5],[32,-0.5]]
];

const borders=[
[[-90,17.5],[-89,17.8],[-88.5,18]],[[-88,16],[-89,14.5],[-87.5,13]],[[-84,15],[-86.5,13],[-87.5,13]],[[-85.7,11],[-83.7,11]],[[-83,8.3],[-82.8,9.5]],[[-77.3,8.5],[-77.5,7.3]],
[[-72,12],[-72.5,9],[-71,7],[-67.5,6],[-67.5,2]],[[-60,8.5],[-61,5],[-60,5],[-64,4],[-64,2]],[[-57,6],[-58,2]],[[-54,5.5],[-54.5,2.3]],
[[-51.8,4],[-54.5,2.3],[-58,1.5],[-60,1.5],[-64,2],[-67,2],[-69.5,1],[-70,-4],[-74,-7.5],[-73,-9.5],[-70.5,-10]],
[[-79,1],[-75,-0.2],[-70,-4]],[[-80.3,-3.4],[-78.5,-4.5],[-75.2,-0.2]],
[[-13,27.7],[-8.7,27.7],[-8.7,26],[-12,26],[-12,23.5],[-13,23],[-13,21.3],[-17,21.3]],
[[-8.7,27.3],[-4.8,25],[-6.5,25],[-5.5,15.5],[-9.5,15.5],[-12,14.8],[-16.3,16]],
[[-4.8,25],[1,21],[3.3,19],[4.2,19],[4.2,15],[3,15],[1,15],[-0.5,15],[-5.5,10.5]],
[[3.3,19],[5.8,19.5],[12,23.5],[14,22.5],[15,23],[24,19.5],[24,15.7],[22.5,13],[23,10],[27,5],[31,3.7],[35,4.5],[34,8],[33,11],[36,14.5],[38,17.8]],
[[10,30],[9.5,26.5],[12,23.5]],[[25,30],[25,22],[37,22]],[[25,22],[25,20],[24,20]],
[[15,23],[15.5,19],[13.5,14]],[[14,13],[15,10],[13.5,7],[15,7.5]],[[3.5,11.7],[7,13],[13.5,13.5]],[[2.7,6.3],[3.5,9.5],[3.5,11.7]],[[0,15],[2,12],[3.5,11.7]],
[[1.2,6],[0.5,11]],[[-3,5],[-2.8,11],[0.5,11]],[[-8,4.4],[-8,8],[-8,10.3],[-5.5,10.5],[-3,10]],[[-13,12.5],[-11.5,12],[-9,12.5],[-8,10.3]],[[-11.3,7],[-10,8.5],[-8,8]],[[-16.7,12.3],[-12,12.5],[-12,15]],
[[15.5,7.5],[19,9],[22,11]],[[16,3.5],[19,3.7],[24,4.8],[27,5]],[[9.7,2.2],[16,2.2],[16,3.5],[15,7]],[[11,-4],[13,-2],[14,2]],[[12.2,-5],[16,-3],[17.8,-0.5],[18,3.7]],[[12.2,-6],[17,-6],[17.5,-8],[22,-10]],
[[31,3.7],[29.6,-1],[29,-4],[29.5,-8],[28.5,-10]],[[35,4.5],[34,1],[34,-1],[39.5,-4.7]],[[30.7,-1],[30.5,-2.5],[29,-4.5]],[[30,-8],[33,-9.5],[35,-11]],
[[35,4.5],[41,4],[42,4],[48,8],[44,9],[43,11]],[[41,4],[41,-1.5]],[[38,17.8],[36.5,14.5],[40,14.5],[43,12.5]],[[23,10],[27,9.5],[32,10],[33,11]],
[[43,16.5],[47,17],[52,19],[55,20],[55.5,22.5],[56,24]],[[39,32],[46,29],[48,29]],
[[68,23.8],[71,25],[70,28],[74,30]],[[61.5,25.2],[63,27],[61,29.5]],[[80,29],[88,26.5],[90,26.5]],[[88,26],[88.5,22]]
];

const svgNS="http://www.w3.org/2000/svg";
const panelWidth=633, panelHeight=141;
function make(tag,props,parent){
  const el=document.createElementNS(svgNS,tag);
  for(const k in props){el.setAttribute(k,props[k]);}
  if(parent){parent.appendChild(el);}
  return el;
}
function panelLeft(i){return i<4?102:845;}
function panelTop(i){return 39+225*(i%4);}
function xScale(i,lon){return panelLeft(i)+(lon+90)/180*panelWidth;}
function yScale(i,lat){return panelTop(i)+(30-lat)/40*panelHeight;}
function bandColor(v){
  let k=0;
  while(k<bandBreaks.length&&v>=bandBreaks[k]){k++;}
  return bandColors[k];
}
function cubic(a,b,c,d,t){
  return b+0.5*t*(c-a+t*(2*a-5*b+4*c-d+t*(3*(b-c)+d-a)));
}
function fieldValue(grid,lon,lat){
  const stepX=(lonCols[lonCols.length-1]-lonCols[0])/(lonCols.length-1);
  const stepY=(latRows[0]-latRows[latRows.length-1])/(latRows.length-1);
  const fx=(lon-lonCols[0])/stepX, fy=(latRows[0]-lat)/stepY;
  const ix=Math.min(Math.floor(fx),lonCols.length-2), iy=Math.min(Math.floor(fy),latRows.length-2);
  const tx=fx-ix, ty=fy-iy, rowVals=[];
  for(let r=iy-1;r<=iy+2;r++){
    const row=grid[Math.max(0,Math.min(latRows.length-1,r))];
    const p=c=>row[Math.max(0,Math.min(lonCols.length-1,c))];
    rowVals.push(cubic(p(ix-1),p(ix),p(ix+1),p(ix+2),tx));
  }
  return cubic(rowVals[0],rowVals[1],rowVals[2],rowVals[3],ty);
}
function smoothPath(pts){
  let d="M"+pts[0][0].toFixed(1)+" "+pts[0][1].toFixed(1);
  for(let i=0;i<pts.length-1;i++){
    const p0=pts[Math.max(0,i-1)],p1=pts[i],p2=pts[i+1],p3=pts[Math.min(pts.length-1,i+2)];
    const c1x=p1[0]+(p2[0]-p0[0])/6,c1y=p1[1]+(p2[1]-p0[1])/6,c2x=p2[0]-(p3[0]-p1[0])/6,c2y=p2[1]-(p3[1]-p1[1])/6;
    d+="C"+c1x.toFixed(1)+" "+c1y.toFixed(1)+" "+c2x.toFixed(1)+" "+c2y.toFixed(1)+" "+p2[0].toFixed(1)+" "+p2[1].toFixed(1);
  }
  return d;
}
const panelsRoot=document.getElementById("panels");
const defs=document.querySelector("defs");
const contourSets=[["mjo",mjoContours,"#000000"],["low",lowContours,"#a020f0"],["kelvin",kelvinContours,"#0000ff"],["er",erContours,"#ff0000"]];

fieldGrids.forEach((grid,i)=>{
  const L=panelLeft(i),T=panelTop(i);
  const clip=make("clipPath",{id:"panel-clip-"+i},defs);
  make("rect",{x:L,y:T,width:panelWidth,height:panelHeight},clip);
  const g=make("g",{},panelsRoot);
  
  
  const body=make("g",{"clip-path":"url(#panel-clip-"+i+")"},g);
  const heat=make("g",{"shape-rendering":"crispEdges"},body);
  
  
  for(let py=0;py<panelHeight;py+=2){
    const lat=30-(py+1)/panelHeight*40;
    let runStart=0,runColor=null;
    for(let px=0;;px+=2){
      const done=px>=panelWidth;
      const c=done?null:bandColor(fieldValue(grid,-90+(px+1)/panelWidth*180,lat));
      if(c!==runColor){
        if(runColor){
          const r=make("rect",{x:L+runStart,y:T+py,width:Math.min(px,panelWidth)-runStart,height:2,fill:runColor},heat);
          
          
        }
        runStart=px;runColor=c;
      }
      if(done){break;}
    }
  }
  const gridLines=make("g",{stroke:"#555",fill:"none","stroke-width":1.5,"stroke-dasharray":"5 4"},body);
  
  
  [[-90,-80],[-50,9.5],[42,90]].forEach(s=>{
    make("line",{x1:xScale(i,s[0]),x2:xScale(i,s[1]),y1:yScale(i,0),y2:yScale(i,0)},gridLines);
  });
  make("line",{x1:xScale(i,0),x2:xScale(i,0),y1:yScale(i,5.5),y2:yScale(i,-10)},gridLines);
  const map=make("g",{stroke:"#666",fill:"none","stroke-width":1.7,"stroke-linejoin":"round"},body);
  
  
  coastlines.concat(borders).forEach(line=>{
    const pts=line.map(p=>xScale(i,p[0]).toFixed(1)+","+yScale(i,p[1]).toFixed(1)).join(" ");
    const pl=make("polyline",{points:pts},map);
    
    
  });
  contourSets.forEach(set=>{
    const cg=make("g",{stroke:set[2],fill:"none","stroke-width":2},body);
    
    
    set[1][i].forEach(c=>{
      const n=Math.min(c[0].length,c[1].length),pts=[];
      for(let k=0;k<n;k++){pts.push([xScale(i,c[0][k]),yScale(i,c[1][k])]);}
      const p=make("path",{d:smoothPath(pts)},cg);
      
      
    });
  });
  if(i===1){
    const tc=make("g",{},body);
    
    
    make("circle",{cx:xScale(i,86.7),cy:yScale(i,7.7),r:5.5,fill:"#c0141c",stroke:"#700","stroke-width":1},tc);
    const tcLabel=make("text",{x:xScale(i,86.7),y:yScale(i,7.7)+3,"font-size":8,"font-weight":"bold",fill:"#fff","text-anchor":"middle"},tc);
    tcLabel.textContent="N";
  }
  const frame=make("rect",{x:L,y:T,width:panelWidth,height:panelHeight,fill:"none",stroke:"#000","stroke-width":3},g);
  
  
  const ticks=make("g",{stroke:"#000"},g);
  
  
  for(let lon=-90;lon<=90;lon+=10){
    const major=lonTickValues.includes(lon),len=major?6:3,x=xScale(i,lon);
    make("line",{x1:x,x2:x,y1:T-1.5-len,y2:T,"stroke-width":major?2:1.3},ticks);
    make("line",{x1:x,x2:x,y1:T+panelHeight,y2:T+panelHeight+1.5+len,"stroke-width":major?2:1.3},ticks);
  }
  for(let lat=-10;lat<=30;lat+=2.5){
    const major=latTickValues.includes(lat),len=major?6:3,y=yScale(i,lat);
    make("line",{x1:L-1.5-len,x2:L,y1:y,y2:y,"stroke-width":major?2:1.2},ticks);
    make("line",{x1:L+panelWidth,x2:L+panelWidth+1.5+len,y1:y,y2:y,"stroke-width":major?2:1.2},ticks);
  }
  const title=make("text",{x:L-1,y:T-8,"font-size":34.9},g);
  title.textContent=panelTitles[i];
  
  
  if(i<4){
    latTickLabels.forEach((lab,k)=>{
      const t=make("text",{x:L-28,y:yScale(i,latTickValues[k])+12,"font-size":34.3,"text-anchor":"end"},g);
      t.textContent=lab;
      
      
    });
  }
  if(i%4===3){
    lonTickLabels.forEach((lab,k)=>{
      const t=make("text",{x:xScale(i,lonTickValues[k]),y:T+196,"font-size":34.3,"text-anchor":"middle"},g);
      t.textContent=lab;
      
      
    });
  }
});

const sideLabels=[[0,"Observed"],[4,"CFS Forecast"]];
sideLabels.forEach(s=>{
  const t=make("text",{x:panelLeft(s[0])+panelWidth+2,y:panelTop(s[0])-8,"font-size":34.9,"text-anchor":"end"},panelsRoot);
  t.textContent=s[1];
  
  
});

const cbar=document.getElementById("colorbar");
const boxW=603/bandColors.length;
bandColors.forEach((c,k)=>{
  const r=make("rect",{x:229.5+k*boxW,y:971.5,width:boxW,height:23,fill:c,stroke:"#222","stroke-width":1.3},cbar);
  
  
});
bandBreaks.forEach((b,k)=>{
  const t=make("text",{x:231+(k+1)*boxW,y:1023,"font-size":31.5,"text-anchor":"middle"},cbar);
  t.textContent=String(b);
  
  
});
</script>
</body>
</html>
